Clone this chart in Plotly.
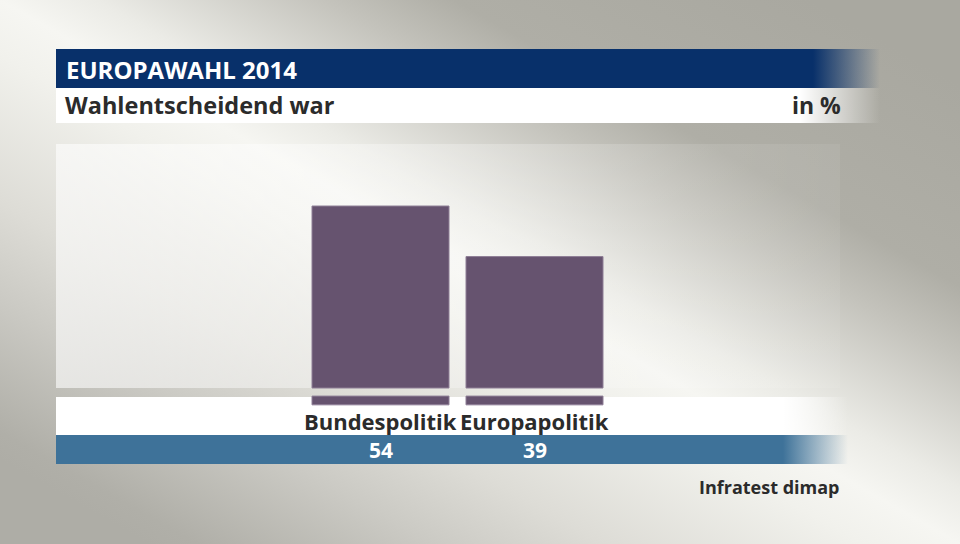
import base64
import plotly.graph_objects as go

# ---- data ----
categories = ["Bundespolitik", "Europapolitik"]
values = [54, 39]
title_text = "EUROPAWAHL 2014"
subtitle_text = "Wahlentscheidend war"
unit_text = "in %"
source_text = "Infratest dimap"

# ---- styling constants ----
W, H = 960, 544
BAR_COLOR = "#66536f"
BAR_EDGE = "#8e7e96"
NAVY = "#08306a"
STRIP_BLUE = "#3e7299"
TEXT_DARK = "#2b2b2b"
FONT = "Open Sans"

# y-axis geometry (pixel of value 0 and pixels per unit)
ZERO_PX = 388.0
PX_PER_UNIT = 3.37
Y_MIN, Y_MAX = -10.0, 60.0
STUB_TOP, STUB_BOTTOM = -2.4, -5.0


def yfrac(px):
    return (H - px) / H


y_dom = [yfrac(ZERO_PX - Y_MIN * PX_PER_UNIT), yfrac(ZERO_PX - Y_MAX * PX_PER_UNIT)]
# x-axis: category spacing 154px, first center at 380.5
X_LEFT_PX = 380.5 - 77
X_RIGHT_PX = X_LEFT_PX + 154 * len(categories)
x_dom = [X_LEFT_PX / W, X_RIGHT_PX / W]

# background gradient stops (offset, colour) along the bottom-left -> top-right axis
BG_STOPS = [
    (0.0, "#aeada6"), (0.03, "#b0afa8"), (0.175, "#cbcac4"), (0.28, "#dddcd6"),
    (0.44, "#f1f1ec"), (0.5, "#f6f6f2"), (0.56, "#ebebe6"), (0.70, "#c4c3bc"),
    (0.78, "#afaea6"), (1.0, "#a9a8a0"),
]
bg_stops_svg = "".join(f'<stop offset="{o}" stop-color="{c}"/>' for o, c in BG_STOPS)

# ---- decorative background as SVG ----
svg = f'''<svg xmlns="http://www.w3.org/2000/svg" width="{W}" height="{H}" viewBox="0 0 {W} {H}">
<defs>
<linearGradient id="bg" gradientUnits="userSpaceOnUse" x1="283" y1="620" x2="677" y2="-76">
{bg_stops_svg}
</linearGradient>
<linearGradient id="panel" gradientUnits="userSpaceOnUse" x1="56" y1="0" x2="840" y2="0">
<stop offset="0" stop-color="#ffffff" stop-opacity="0.6"/>
<stop offset="0.45" stop-color="#ffffff" stop-opacity="0.3"/>
<stop offset="0.8" stop-color="#ffffff" stop-opacity="0.12"/>
<stop offset="1" stop-color="#ffffff" stop-opacity="0.06"/>
</linearGradient>
<linearGradient id="navy" gradientUnits="userSpaceOnUse" x1="56" y1="0" x2="880" y2="0">
<stop offset="0" stop-color="{NAVY}" stop-opacity="1"/>
<stop offset="{(813-56)/(880-56):.4f}" stop-color="{NAVY}" stop-opacity="1"/>
<stop offset="1" stop-color="{NAVY}" stop-opacity="0"/>
</linearGradient>
<linearGradient id="white1" gradientUnits="userSpaceOnUse" x1="56" y1="0" x2="880" y2="0">
<stop offset="0" stop-color="#ffffff" stop-opacity="1"/>
<stop offset="{(800-56)/(880-56):.4f}" stop-color="#ffffff" stop-opacity="1"/>
<stop offset="1" stop-color="#ffffff" stop-opacity="0"/>
</linearGradient>
<linearGradient id="white2" gradientUnits="userSpaceOnUse" x1="56" y1="0" x2="848" y2="0">
<stop offset="0" stop-color="#ffffff" stop-opacity="1"/>
<stop offset="{(783-56)/(848-56):.4f}" stop-color="#ffffff" stop-opacity="1"/>
<stop offset="1" stop-color="#ffffff" stop-opacity="0"/>
</linearGradient>
<linearGradient id="blue2" gradientUnits="userSpaceOnUse" x1="56" y1="0" x2="848" y2="0">
<stop offset="0" stop-color="{STRIP_BLUE}" stop-opacity="1"/>
<stop offset="{(783-56)/(848-56):.4f}" stop-color="{STRIP_BLUE}" stop-opacity="1"/>
<stop offset="1" stop-color="{STRIP_BLUE}" stop-opacity="0"/>
</linearGradient>
</defs>
<rect x="0" y="0" width="{W}" height="{H}" fill="url(#bg)"/>
<rect x="56" y="144" width="784" height="244" fill="url(#panel)"/>
<rect x="56" y="49" width="824" height="39" fill="url(#navy)"/>
<rect x="56" y="88" width="824" height="35" fill="url(#white1)"/>
<rect x="56" y="397" width="792" height="38" fill="url(#white2)"/>
<rect x="56" y="435" width="792" height="29" fill="url(#blue2)"/>
</svg>'''
svg_uri = "data:image/svg+xml;base64," + base64.b64encode(svg.encode()).decode()

fig = go.Figure()
fig.add_trace(go.Bar(
    x=categories, y=values, base=0,
    marker=dict(color=BAR_COLOR, line=dict(color=BAR_EDGE, width=1)),
    width=137 / 154, hoverinfo="x+y", showlegend=False,
))
fig.add_trace(go.Bar(
    x=categories, y=[STUB_TOP - STUB_BOTTOM] * len(categories), base=STUB_BOTTOM,
    marker=dict(color=BAR_COLOR, line=dict(color=BAR_EDGE, width=1)),
    width=137 / 154, hoverinfo="skip", showlegend=False,
))

annotations = [
    dict(text=f"<b>{title_text}</b>", x=64 / W, y=yfrac(69), xref="paper", yref="paper",
         xanchor="left", yanchor="middle", showarrow=False,
         font=dict(family=FONT, size=24, color="#ffffff")),
    dict(text=f"<b>{subtitle_text}</b>", x=63 / W, y=yfrac(105), xref="paper", yref="paper",
         xanchor="left", yanchor="middle", showarrow=False,
         font=dict(family=FONT, size=23.5, color=TEXT_DARK)),
    dict(text=f"<b>{unit_text}</b>", x=843 / W, y=yfrac(105), xref="paper", yref="paper",
         xanchor="right", yanchor="middle", showarrow=False,
         font=dict(family=FONT, size=23, color=TEXT_DARK)),
    dict(text=f"<b>{source_text}</b>", x=842 / W, y=yfrac(487), xref="paper", yref="paper",
         xanchor="right", yanchor="middle", showarrow=False,
         font=dict(family=FONT, size=18, color=TEXT_DARK)),
]
for cat, val in zip(categories, values):
    annotations.append(dict(text=f"<b>{cat}</b>", x=cat, y=yfrac(421), xref="x", yref="paper",
                            xanchor="center", yanchor="middle", showarrow=False,
                            font=dict(family=FONT, size=22, color=TEXT_DARK)))
    annotations.append(dict(text=f"<b>{val}</b>", x=cat, y=yfrac(450), xref="x", yref="paper",
                            xanchor="center", yanchor="middle", showarrow=False,
                            font=dict(family=FONT, size=21, color="#ffffff")))

fig.update_layout(
    width=W, height=H,
    margin=dict(l=0, r=0, t=0, b=0),
    paper_bgcolor="#d8d8d2", plot_bgcolor="rgba(0,0,0,0)",
    barmode="overlay",
    images=[dict(source=svg_uri, xref="paper", yref="paper", x=0, y=1,
                 sizex=1, sizey=1, sizing="stretch", xanchor="left", yanchor="top",
                 layer="below")],
    xaxis=dict(domain=x_dom, range=[-0.5, len(categories) - 0.5], visible=False, fixedrange=True),
    yaxis=dict(domain=y_dom, range=[Y_MIN, Y_MAX], visible=False, fixedrange=True),
    annotations=annotations,
    showlegend=False,
)

fig.write_html(
    "out.html",
    config=dict(displayModeBar=False),
    post_script="document.body.style.margin='0';document.body.style.overflow='hidden';",
)
